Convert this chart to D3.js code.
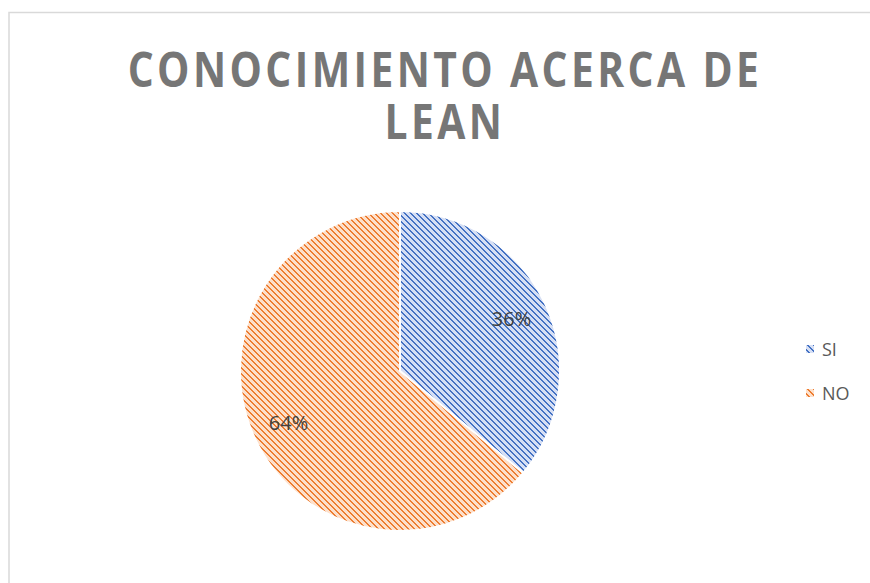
<!DOCTYPE html>
<html>
<head>
<meta charset="utf-8">
<script src="https://cdn.jsdelivr.net/npm/d3@7"></script>
<style>
  body { margin: 0; background: #fff; }
  svg { display: block; }
</style>
</head>
<body>
<div id="chart"></div>
<script>
const categories = ["SI", "NO"];
const values = [36, 64];
const titleLines = ["CONOCIMIENTO ACERCA DE", "LEAN"];

const width = 870, height = 583;
const cx = 400, cy = 371, radius = 160;

const fills = [
  {id: "pat-si", bg: "#d6dff4", fg: "#4472c4"},
  {id: "pat-no", bg: "#fde0cb", fg: "#ed7d31"}
];

const svg = d3.select("#chart").append("svg")
  .attr("width", width)
  .attr("height", height);

// hatch patterns: stair-step stripe going down to the right
const defs = svg.append("defs");
fills.forEach(f => {
  const p = defs.append("pattern")
    .attr("id", f.id)
    .attr("patternUnits", "userSpaceOnUse")
    .attr("width", 6)
    .attr("height", 6);
  p.append("rect").attr("width", 6).attr("height", 6).attr("fill", f.bg);
  p.selectAll(".blk")
    .data(d3.range(6))
    .join("rect")
    .attr("x", d => d)
    .attr("y", d => d)
    .attr("width", 2)
    .attr("height", 1)
    .attr("fill", f.fg);
  p.append("rect")
    .attr("x", 0).attr("y", 5).attr("width", 1).attr("height", 1)
    .attr("fill", f.fg);
});

// chart area border
svg.append("path")
  .attr("d", `M9,${height} L9,12.5 L${width},12.5`)
  .attr("fill", "none")
  .attr("stroke", "#d9d9d9")
  .attr("stroke-width", 1.5);

// title
svg.append("g").selectAll("text")
  .data(titleLines)
  .join("text")
  .attr("transform", (d, i) => `translate(445,${87 + i * 52}) scale(0.85,1)`)
  .attr("text-anchor", "middle")
  .attr("font-family", "'Open Sans', sans-serif")
  .attr("font-weight", 700)
  .attr("font-size", 48)
  .attr("letter-spacing", 4)
  .attr("fill", "#767676")
  .text(d => d);

const pie = d3.pie().sort(null).value(d => d);
const arcs = pie(values);
const arc = d3.arc().innerRadius(0).outerRadius(radius);
const labelArc = d3.arc().innerRadius(radius * 0.77).outerRadius(radius * 0.77);

const g = svg.append("g").attr("transform", `translate(${cx},${cy})`);

g.selectAll("path")
  .data(arcs)
  .join("path")
  .attr("d", arc)
  .attr("fill", (d, i) => `url(#${fills[i].id})`)
  .attr("stroke", "#fff")
  .attr("stroke-width", 2);

const total = d3.sum(values);
g.selectAll("text")
  .data(arcs)
  .join("text")
  .attr("transform", d => `translate(${labelArc.centroid(d)})`)
  .attr("text-anchor", "middle")
  .attr("dy", "0.35em")
  .attr("font-family", "'Open Sans', sans-serif")
  .attr("font-size", 20)
  .attr("fill", "#404040")
  .text(d => Math.round(d.data / total * 100) + "%");

// legend
const legend = svg.append("g").selectAll("g")
  .data(categories)
  .join("g")
  .attr("transform", (d, i) => `translate(806,${350 + i * 44})`);

legend.append("rect")
  .attr("x", 0)
  .attr("y", -5)
  .attr("width", 8)
  .attr("height", 8)
  .attr("fill", (d, i) => `url(#${fills[i].id})`);

legend.append("text")
  .attr("x", 16)
  .attr("dy", "0.35em")
  .attr("font-family", "'Open Sans', sans-serif")
  .attr("font-size", 18)
  .attr("fill", "#595959")
  .text(d => d);
</script>
</body>
</html>
